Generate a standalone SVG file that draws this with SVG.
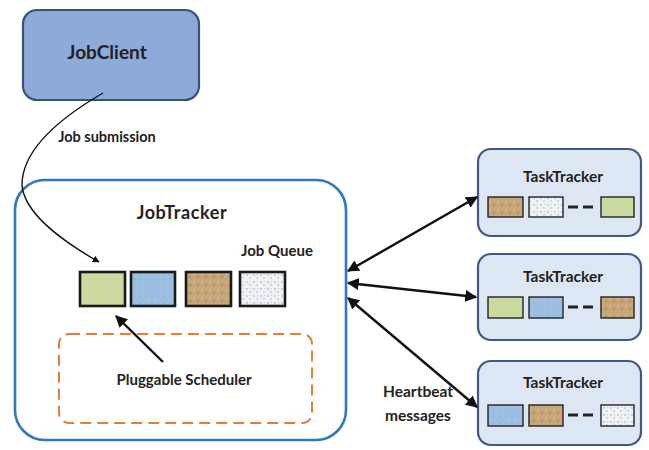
<svg xmlns="http://www.w3.org/2000/svg" width="649" height="450" viewBox="0 0 649 450">
  <style>
    .lbl { font-family: Lato, "Open Sans", "Liberation Sans", sans-serif; font-weight: bold; fill: #222; }
    .tt { fill: #dde7f3; stroke: #3e5a82; stroke-width: 2.2; }
    .cell { stroke: #222; stroke-width: 1.4; }
    .qcell { stroke: #1a1a1a; stroke-width: 2.6; }
    .link { fill: none; stroke: #111; stroke-width: 2.4; }
  </style>
  <defs>
    <pattern id="tan" width="8" height="8" patternUnits="userSpaceOnUse">
      <rect width="8" height="8" fill="#c6a679"/>
      <circle cx="2" cy="2" r="1" fill="#d8bd93"/>
      <circle cx="6" cy="5" r="1.2" fill="#b08f62"/>
    </pattern>
    <pattern id="speck" width="7" height="7" patternUnits="userSpaceOnUse">
      <rect width="7" height="7" fill="#eef2f7"/>
      <circle cx="2" cy="2" r="0.8" fill="#9aa8b8"/>
      <circle cx="5" cy="5" r="0.8" fill="#aab6c4"/>
      <circle cx="5.5" cy="1.5" r="0.5" fill="#b8c2ce"/>
    </pattern>
    <pattern id="blue" width="6" height="6" patternUnits="userSpaceOnUse">
      <rect width="6" height="6" fill="#9dbfe2"/>
      <circle cx="2" cy="3" r="0.7" fill="#86a9d0"/>
    </pattern>
    <marker id="ah" viewBox="0 0 10 10" refX="9" refY="5" markerWidth="5" markerHeight="5" orient="auto-start-reverse">
      <path d="M0,0 L10,5 L0,10 z" fill="#111"/>
    </marker>
  </defs>

  <rect width="649" height="450" fill="#ffffff"/>

  <!-- client -->
  <g id="jobclient">
    <rect x="23" y="10" width="176" height="90" rx="14" fill="#8eaad8" stroke="#3b5277" stroke-width="2.2"/>
    <text class="lbl" x="107" y="59" font-size="19" text-anchor="middle">JobClient</text>
  </g>

  <!-- tracker with queue and scheduler -->
  <g id="jobtracker">
    <rect x="15" y="180" width="331" height="260" rx="30" fill="#ffffff" stroke="#2f78bd" stroke-width="2.6"/>
    <text class="lbl" x="182" y="219" font-size="18" letter-spacing="0.6" text-anchor="middle">JobTracker</text>
    <text class="lbl" x="277" y="256" font-size="15" text-anchor="middle">Job Queue</text>
  </g>

  <g id="jobqueue">
    <rect class="qcell" x="80" y="272" width="45" height="34" fill="#cad9a0"/>
    <rect class="qcell" x="131" y="272" width="44" height="34" fill="url(#blue)"/>
    <rect class="qcell" x="186" y="272" width="45" height="34" fill="url(#tan)"/>
    <rect class="qcell" x="240" y="272" width="45" height="34" fill="url(#speck)"/>
  </g>

  <g id="scheduler">
    <rect x="59" y="334" width="253" height="89" rx="10" fill="none" stroke="#e37d3a" stroke-width="2" stroke-dasharray="11,6"/>
    <text class="lbl" x="184" y="385" font-size="15" text-anchor="middle">Pluggable Scheduler</text>
  </g>

  <!-- task trackers -->
  <g id="tasktracker1">
    <rect class="tt" x="478" y="149" width="163" height="87" rx="13"/>
    <text class="lbl" x="563" y="182" font-size="15.5" text-anchor="middle">TaskTracker</text>
    <rect class="cell" x="488" y="197" width="35" height="20" fill="url(#tan)"/>
    <rect class="cell" x="529" y="197" width="34" height="20" fill="url(#speck)"/>
    <line x1="568" y1="207" x2="578" y2="207" stroke="#222" stroke-width="3"/>
    <line x1="583" y1="207" x2="593" y2="207" stroke="#222" stroke-width="3"/>
    <rect class="cell" x="601" y="197" width="33" height="20" fill="#cad9a0"/>
  </g>

  <g id="tasktracker2">
    <rect class="tt" x="478" y="254" width="163" height="86" rx="13"/>
    <text class="lbl" x="563" y="282" font-size="15.5" text-anchor="middle">TaskTracker</text>
    <rect class="cell" x="488" y="297" width="35" height="21" fill="#cad9a0"/>
    <rect class="cell" x="529" y="297" width="34" height="21" fill="url(#blue)"/>
    <line x1="568" y1="307" x2="578" y2="307" stroke="#222" stroke-width="3"/>
    <line x1="583" y1="307" x2="593" y2="307" stroke="#222" stroke-width="3"/>
    <rect class="cell" x="601" y="297" width="33" height="21" fill="url(#tan)"/>
  </g>

  <g id="tasktracker3">
    <rect class="tt" x="478" y="361" width="163" height="84" rx="13"/>
    <text class="lbl" x="563" y="388" font-size="15.5" text-anchor="middle">TaskTracker</text>
    <rect class="cell" x="488" y="405" width="35" height="21" fill="url(#blue)"/>
    <rect class="cell" x="529" y="405" width="34" height="21" fill="url(#tan)"/>
    <line x1="568" y1="415" x2="578" y2="415" stroke="#222" stroke-width="3"/>
    <line x1="583" y1="415" x2="593" y2="415" stroke="#222" stroke-width="3"/>
    <rect class="cell" x="601" y="405" width="33" height="21" fill="url(#speck)"/>
  </g>

  <!-- connectors -->
  <g id="connectors">
    <path d="M103,93 C60,118 22,150 22,185 C24,212 60,240 99,262" fill="none" stroke="#111" stroke-width="1.4" marker-end="url(#ah)"/>
    <line class="link" x1="163" y1="362" x2="116" y2="316" marker-end="url(#ah)"/>
    <line class="link" x1="348" y1="271" x2="477" y2="197" marker-start="url(#ah)" marker-end="url(#ah)"/>
    <line class="link" x1="348" y1="283" x2="476" y2="297" marker-start="url(#ah)" marker-end="url(#ah)"/>
    <line class="link" x1="348" y1="298" x2="477" y2="407" marker-start="url(#ah)" marker-end="url(#ah)"/>
    <text class="lbl" x="107" y="142" font-size="14.5" text-anchor="middle">Job submission</text>
    <text class="lbl" x="418" y="397" font-size="15.5" text-anchor="middle">Heartbeat</text>
    <text class="lbl" x="418" y="421" font-size="15.5" text-anchor="middle">messages</text>
  </g>
</svg>
